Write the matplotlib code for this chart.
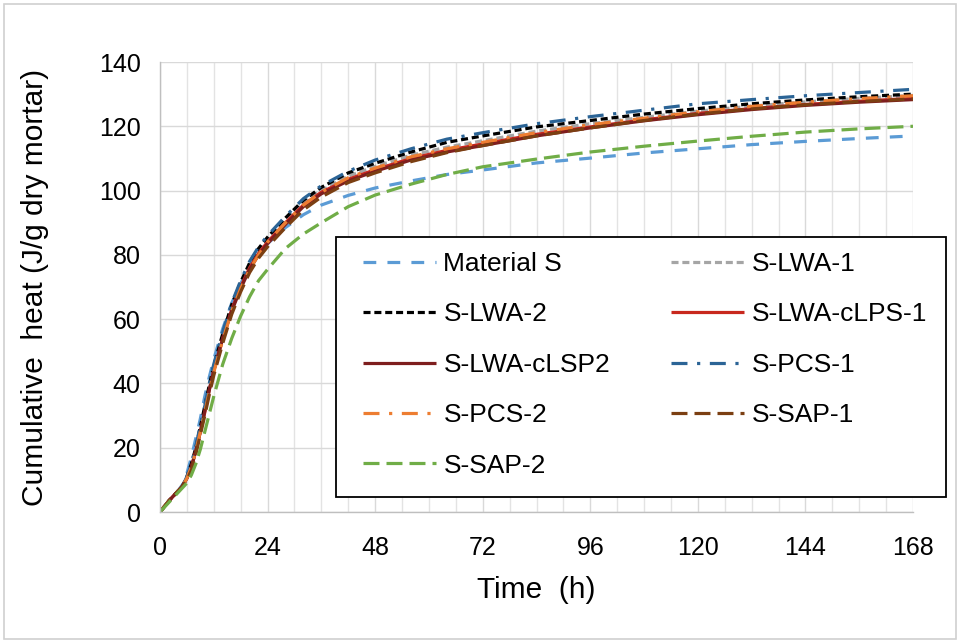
import matplotlib
matplotlib.use("Agg")
import matplotlib.pyplot as plt
from matplotlib.patches import Rectangle
from matplotlib.ticker import MultipleLocator

plt.rcParams['font.family'] = ['Liberation Sans', 'DejaVu Sans']

time_h = [0, 2, 4, 5, 6, 7, 8, 9, 10, 11, 12, 14, 16, 18, 20, 22, 24, 28, 32, 36,
          42, 48, 56, 64, 72, 84, 96, 108, 120, 132, 144, 156, 168]

material_s = [0, 3.5, 6.5, 8.5, 12, 17, 23, 29, 36, 42, 47.5, 57, 65, 71, 76.5, 80.5, 83.5, 88.5, 92.5, 95.5,
              98.5, 100.8, 103, 105, 106.4, 108.6, 110.1, 111.7, 113, 114.3, 115.3, 116.2, 117]
s_lwa_1 = [0, 3.5, 6.5, 8, 10.5, 14.5, 19.5, 25.5, 32, 38.5, 44.5, 54.5, 63.5, 70.5, 76.5, 81, 84.5, 90.5, 96, 100,
           104.5, 107.5, 111, 113.5, 115.5, 118.5, 120.8, 122.8, 124.7, 126.3, 127.6, 128.7, 129.6]
s_lwa_2 = [0, 3.5, 6.5, 8, 11, 15, 20, 26.5, 33, 39.5, 45.5, 55.5, 64.5, 71.5, 77.5, 82, 85.5, 91.5, 97, 101,
           105.5, 108.5, 112, 115, 117, 119.8, 121.8, 123.8, 125.5, 127, 128.2, 129.2, 130]
s_lwa_clps_1 = [0, 3.5, 6.5, 8, 10.5, 14, 19, 25, 31, 38, 44, 54, 63, 70, 76, 80.5, 84, 90, 95.5, 99.5,
                103.5, 106.5, 110, 112.5, 114.5, 117.5, 119.8, 122, 124, 125.5, 126.8, 127.8, 128.7]
s_lwa_clsp2 = [0, 3.5, 6.5, 8, 10.5, 14, 19, 25, 31.5, 38, 44, 54, 62.5, 69.5, 75.5, 80, 83.5, 89.5, 95, 99,
               103, 106, 109.5, 112, 114, 117, 119.5, 121.7, 123.6, 125.2, 126.5, 127.5, 128.3]
s_pcs_1 = [0, 3.5, 6.5, 8, 11, 15, 20.5, 27, 33, 40, 46, 56, 65, 72, 78, 82.5, 86, 92, 97.5, 101.5,
           106, 109.5, 113, 116, 118, 120.8, 123, 125, 127, 128.3, 129.5, 130.5, 131.5]
s_pcs_2 = [0, 3.5, 6.5, 8, 10.5, 14, 19, 25, 31, 37.5, 43.5, 53.5, 62.5, 69.5, 75.5, 80, 84, 90, 95.5, 99.5,
           104, 107, 110.5, 113, 115, 118, 120.5, 122.5, 124.5, 126.2, 127.5, 128.6, 129.5]
s_sap_1 = [0, 3.5, 6.5, 8, 10, 13, 18, 24, 30, 36.5, 42.5, 52.5, 61.5, 68.5, 74.5, 79, 82.5, 88.5, 94, 98,
           102.5, 105.5, 109, 111.8, 114, 117, 119.5, 121.8, 123.8, 125.4, 126.7, 127.7, 128.5]
s_sap_2 = [0, 3, 6, 7.5, 9, 11.5, 15, 19.5, 25, 30.5, 36, 46, 54, 61, 67, 72, 75.5, 82, 86.5, 90,
           95, 98.6, 102, 105, 107.4, 109.8, 112, 113.8, 115.4, 116.9, 118.2, 119.2, 120]

series_names = ["Material S", "S-LWA-1", "S-LWA-2", "S-LWA-cLPS-1", "S-LWA-cLSP2",
                "S-PCS-1", "S-PCS-2", "S-SAP-1", "S-SAP-2"]
series_values = [material_s, s_lwa_1, s_lwa_2, s_lwa_clps_1, s_lwa_clsp2,
                 s_pcs_1, s_pcs_2, s_sap_1, s_sap_2]
x_ticks = [0, 24, 48, 72, 96, 120, 144, 168]

styles = [
    dict(color="#5B9BD5", ls=(0, (4, 3.5))),
    dict(color="#A5A5A5", ls=(0, (2.2, 1.2))),
    dict(color="#000000", ls=(0, (2.2, 1.2))),
    dict(color="#C8281E", ls="-"),
    dict(color="#7E1E1E", ls="-"),
    dict(color="#2B6496", ls=(0, (5, 3, 1, 3))),
    dict(color="#ED7D31", ls=(0, (5, 3, 1, 3))),
    dict(color="#7B3F12", ls=(0, (5, 2.2))),
    dict(color="#70AD47", ls=(0, (5, 2.2))),
]

W, H = 960, 643
fig = plt.figure(figsize=(W/100, H/100), dpi=100)
ax = fig.add_axes([160/W, 1-512/H, (913-160)/W, (512-62)/H])

handles = []
for name, vals, st in zip(series_names, series_values, styles):
    h, = ax.plot(time_h, vals, color=st["color"], linestyle=st["ls"], lw=2.3, label=name,
                 solid_capstyle="butt", dash_capstyle="butt")
    handles.append(h)

ax.set_xlim(0, 168)
ax.set_ylim(0, 140)
ax.set_xticks(x_ticks)
ax.xaxis.set_minor_locator(MultipleLocator(6))
ax.yaxis.set_major_locator(MultipleLocator(20))
ax.grid(which="major", color="#D9D9D9", lw=1)
ax.grid(which="minor", axis="x", color="#E3E3E3", lw=1)
ax.set_axisbelow(True)
for s in ["top", "right"]:
    ax.spines[s].set_visible(False)
for s in ["left", "bottom"]:
    ax.spines[s].set_color("#BFBFBF")
    ax.spines[s].set_linewidth(1)
ax.tick_params(which="both", length=0)
ax.tick_params(axis="x", labelsize=18, pad=17)
ax.tick_params(axis="y", labelsize=18, pad=14)
ax.set_xlabel("Time  (h)", fontsize=21.5, labelpad=12)
ax.set_ylabel("Cumulative  heat (J/g dry mortar)", fontsize=21.5, labelpad=36)

# legend frame (extends past the plot area, as in the original)
frame = Rectangle((336/W, 1-497/H), (946-336)/W, (497-237)/H, transform=fig.transFigure,
                  facecolor="white", edgecolor="black", lw=1.3, zorder=3)
fig.patches.append(frame)

order = [0, 2, 4, 6, 8, 1, 3, 5, 7]
leg = fig.legend([handles[i] for i in order], [series_names[i] for i in order],
                 loc="upper left", bbox_to_anchor=(363/W, 1-252/H), ncol=2,
                 fontsize=19, frameon=False, handlelength=2.75, handletextpad=0.3,
                 columnspacing=2.3, labelspacing=1.0, borderpad=0, borderaxespad=0)
leg.set_zorder(4)

fig.patches.append(Rectangle((4/W, 4/H), 952/W, 635/H, transform=fig.transFigure,
                             fill=False, edgecolor="#D0D0D0", lw=1.2))

fig.savefig("out.png", dpi=100)
